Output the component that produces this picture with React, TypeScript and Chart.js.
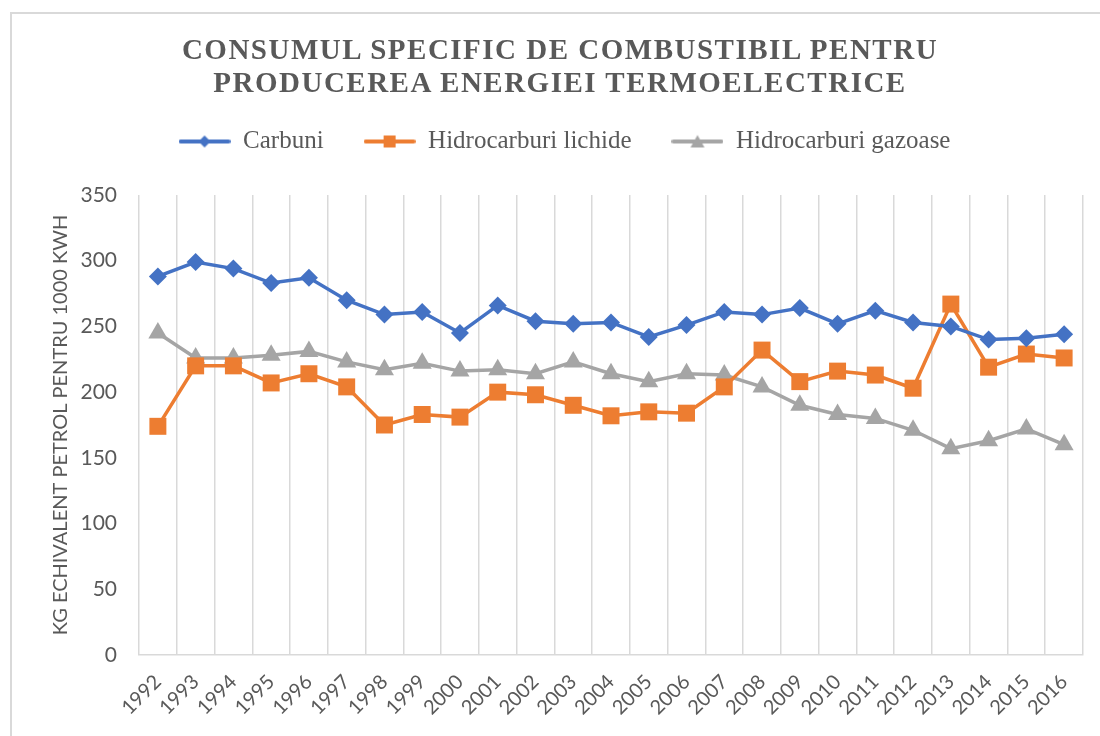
import React, { useEffect, useRef } from "react";
import { Chart, registerables } from "chart.js";

Chart.register(...registerables);

const years = [
  "1992", "1993", "1994", "1995", "1996", "1997", "1998", "1999", "2000",
  "2001", "2002", "2003", "2004", "2005", "2006", "2007", "2008", "2009",
  "2010", "2011", "2012", "2013", "2014", "2015", "2016",
];

const carbuni = [
  288, 299, 294, 283, 287, 270, 259, 261, 245, 266, 254, 252, 253, 242, 251,
  261, 259, 264, 252, 262, 253, 250, 240, 241, 244,
];

const lichide = [
  174, 220, 220, 207, 214, 204, 175, 183, 181, 200, 198, 190, 182, 185, 184,
  204, 232, 208, 216, 213, 203, 267, 219, 229, 226,
];

const gazoase = [
  245, 226, 226, 228, 231, 223, 217, 222, 216, 217, 214, 223, 214, 208, 214,
  213, 204, 190, 183, 180, 171, 157, 163, 172, 160,
];

const seriesNames = ["Carbuni", "Hidrocarburi lichide", "Hidrocarburi gazoase"];
const seriesColors = ["#4472C4", "#ED7D31", "#A5A5A5"];
const chartTitle = [
  "CONSUMUL SPECIFIC DE COMBUSTIBIL PENTRU",
  "PRODUCEREA ENERGIEI TERMOELECTRICE",
];
const yAxisTitle = "KG ECHIVALENT PETROL PENTRU 1000 KWH";

function makeLegendIcon(color: string, shape: string): HTMLCanvasElement {
  const c = document.createElement("canvas");
  c.width = 52;
  c.height = 16;
  const ctx = c.getContext("2d")!;
  ctx.strokeStyle = color;
  ctx.fillStyle = color;
  ctx.lineWidth = 4;
  ctx.lineCap = "round";
  ctx.beginPath();
  ctx.moveTo(2, 8);
  ctx.lineTo(50, 8);
  ctx.stroke();
  ctx.beginPath();
  if (shape === "diamond") {
    ctx.moveTo(26, 2);
    ctx.lineTo(32, 8);
    ctx.lineTo(26, 14);
    ctx.lineTo(20, 8);
  } else if (shape === "square") {
    ctx.rect(20, 2, 12, 12);
  } else {
    ctx.moveTo(26, 1.5);
    ctx.lineTo(33, 14);
    ctx.lineTo(19, 14);
  }
  ctx.closePath();
  ctx.fill();
  return c;
}

export default function App() {
  const canvasRef = useRef<HTMLCanvasElement | null>(null);

  useEffect(() => {
    const canvas = canvasRef.current;
    if (!canvas) return;
    const icons = [
      makeLegendIcon(seriesColors[0], "diamond"),
      makeLegendIcon(seriesColors[1], "square"),
      makeLegendIcon(seriesColors[2], "triangle"),
    ];
    const shiftLegend = {
      id: "shiftLegend",
      afterLayout(chart: any) {
        const lg = chart.legend;
        if (lg) {
          lg.left += 18;
          lg.right += 18;
          lg.top -= 31;
          lg.bottom -= 31;
        }
      },
    };
    const chart = new Chart(canvas, {
      type: "line",
      data: {
        labels: years,
        datasets: [
          {
            label: seriesNames[0],
            data: carbuni,
            borderColor: seriesColors[0],
            backgroundColor: seriesColors[0],
            pointStyle: "rectRot",
            pointRadius: 9,
            pointBorderWidth: 0,
            borderWidth: 3.5,
            tension: 0,
          },
          {
            label: seriesNames[1],
            data: lichide,
            borderColor: seriesColors[1],
            backgroundColor: seriesColors[1],
            pointStyle: "rect",
            pointRadius: 12,
            pointBorderWidth: 0,
            borderWidth: 3.5,
            tension: 0,
          },
          {
            label: seriesNames[2],
            data: gazoase,
            borderColor: seriesColors[2],
            backgroundColor: seriesColors[2],
            pointStyle: "triangle",
            pointRadius: 11,
            pointBorderWidth: 0,
            borderWidth: 3.5,
            tension: 0,
          },
        ],
      },
      options: {
        responsive: false,
        animation: false,
        devicePixelRatio: 1,
        layout: { padding: { left: 10, right: 17, top: 120, bottom: 0 } },
        plugins: {
          title: { display: false },
          tooltip: { enabled: false },
          legend: {
            display: true,
            position: "top",
            labels: {
              usePointStyle: true,
              pointStyleWidth: 52,
              padding: 40,
              color: "#595959",
              font: { family: "'Liberation Serif', serif", size: 25 },
              generateLabels: (ch: any) => {
                const base = Chart.defaults.plugins.legend.labels.generateLabels(ch);
                return base.map((it: any, i: number) => ({
                  ...it,
                  pointStyle: icons[i],
                  lineWidth: 0,
                }));
              },
            },
          },
        },
        scales: {
          x: {
            type: "category",
            offset: true,
            grid: {
              display: true,
              offset: true,
              color: "#d9d9d9",
              lineWidth: 1.5,
              drawTicks: false,
            },
            border: { display: true, color: "#d9d9d9", width: 1.5 },
            ticks: {
              autoSkip: false,
              maxRotation: 45,
              minRotation: 45,
              padding: 15,
              color: "#595959",
              font: { family: "Lato, sans-serif", size: 20 },
            },
            afterFit: (s: any) => {
              s.height = 81;
            },
          },
          y: {
            min: 0,
            max: 350,
            grid: { display: false, drawTicks: false },
            border: { display: false },
            ticks: {
              stepSize: 50,
              padding: 22,
              color: "#595959",
              font: { family: "Lato, sans-serif", size: 21 },
            },
            title: {
              display: true,
              text: yAxisTitle,
              color: "#595959",
              padding: { top: 39, bottom: 0 },
              font: { family: "Lato, sans-serif", size: 20 },
            },
            afterFit: (s: any) => {
              s.width = 129;
            },
          },
        },
      },
      plugins: [shiftLegend],
    } as any);
    return () => chart.destroy();
  }, []);

  return (
    <div
      style={{
        position: "absolute",
        left: 0,
        top: 0,
        width: 1100,
        height: 736,
        overflow: "hidden",
        background: "#ffffff",
      }}
    >
      <div
        style={{
          position: "absolute",
          left: 10,
          top: 12,
          width: 1200,
          height: 1000,
          borderLeft: "2px solid #d9d9d9",
          borderTop: "2px solid #d9d9d9",
        }}
      />
      <canvas
        ref={canvasRef}
        width={1100}
        height={736}
        style={{ position: "absolute", left: 0, top: 0, width: 1100, height: 736 }}
      />
      <div
        style={{
          position: "absolute",
          left: 0,
          top: 33,
          width: 1120,
          textAlign: "center",
          fontFamily: "'Liberation Serif', serif",
          fontWeight: "bold",
          fontSize: 29,
          lineHeight: "33px",
          letterSpacing: "1.5px",
          color: "#595959",
        }}
      >
        {chartTitle.map((t) => (
          <div key={t}>{t}</div>
        ))}
      </div>
    </div>
  );
}
